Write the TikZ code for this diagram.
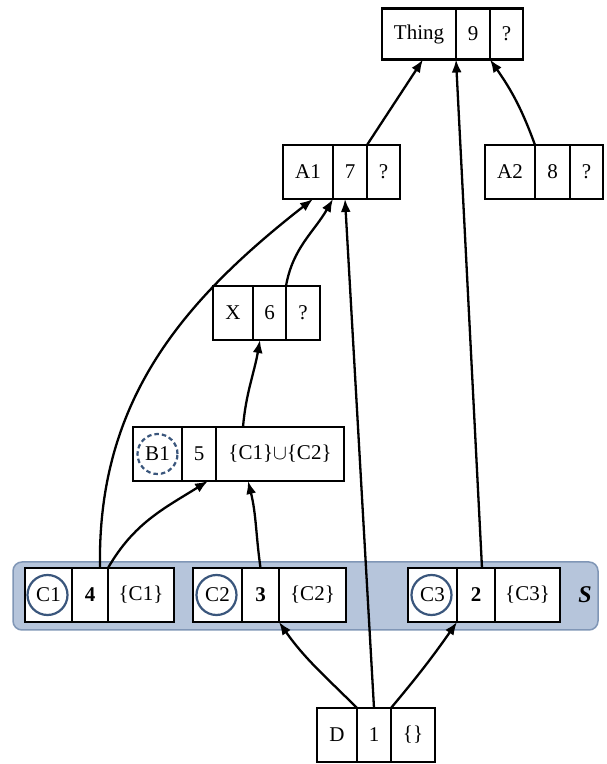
\documentclass[tikz,border=0pt]{standalone}
\usepackage{fontspec}
\setmainfont{Liberation Serif}
\usetikzlibrary{positioning,arrows.meta}
\definecolor{bandfill}{RGB}{182,197,219}
\definecolor{bandline}{RGB}{128,150,182}
\definecolor{ringblue}{RGB}{58,86,124}

\begin{document}
\begin{tikzpicture}[x=1pt,y=1pt,
  cell/.style={draw,fill=white,line width=2.6pt,minimum height=54pt,inner sep=0pt,outer sep=0pt,font=\fontsize{21}{24}\selectfont},
  ring/.style={draw=ringblue,circle,line width=2.2pt,minimum size=40pt,inner sep=0pt},
  dashring/.style={ring,dash pattern=on 4.5pt off 3pt},
  edge/.style={line width=2.3pt,-{Latex[length=13pt,width=10pt]}}]
\useasboundingbox (0,0) rectangle (607,764);
\draw[fill=bandfill,draw=bandline,line width=1.5pt,rounded corners=9pt] (13,134) rectangle (598,202);

% top
\node[cell,minimum height=51pt,minimum width=74pt,anchor=west] (thing) at (382,730) {Thing};
\node[cell,minimum height=51pt,minimum width=34pt,right=0pt of thing] (thing9) {9};
\node[cell,minimum height=51pt,minimum width=33pt,right=0pt of thing9] (thingq) {?};

\node[cell,minimum width=50pt,anchor=west] (a1) at (283,592) {A1};
\node[cell,minimum width=34pt,right=0pt of a1] (a17) {7};
\node[cell,minimum width=33pt,right=0pt of a17] (a1q) {?};

\node[cell,minimum width=50pt,anchor=west] (a2) at (485,592) {A2};
\node[cell,minimum width=35pt,right=0pt of a2] (a28) {8};
\node[cell,minimum width=33pt,right=0pt of a28] (a2q) {?};

\node[cell,minimum width=40pt,anchor=west] (x) at (213,451) {X};
\node[cell,minimum width=33pt,right=0pt of x] (x6) {6};
\node[cell,minimum width=34pt,right=0pt of x6] (xq) {?};

\node[cell,minimum width=49pt,anchor=west] (b1) at (133,310) {B1};
\node[cell,minimum width=34pt,right=0pt of b1] (b15) {5};
\node[cell,minimum width=128pt,right=0pt of b15] (b1s) {\{C1\}$\cup$\{C2\}};
\node[dashring] (b1ring) at (b1) {};

% the set S
\node[cell,minimum width=47pt,anchor=west] (c1) at (25,169) {C1};
\node[cell,minimum width=36pt,right=0pt of c1] (c14) {\textbf{4}};
\node[cell,minimum width=66pt,right=0pt of c14] (c1s) {\{C1\}};
\node[ring] (c1ring) at ([xshift=-1pt]c1.center) {};

\node[cell,minimum width=49pt,anchor=west] (c2) at (193,169) {C2};
\node[cell,minimum width=37pt,right=0pt of c2] (c23) {\textbf{3}};
\node[cell,minimum width=67pt,right=0pt of c23] (c2s) {\{C2\}};
\node[ring] (c2ring) at ([xshift=-1pt]c2.center) {};

\node[cell,minimum width=49pt,anchor=west] (c3) at (408,169) {C3};
\node[cell,minimum width=38pt,right=0pt of c3] (c32) {\textbf{2}};
\node[cell,minimum width=65pt,right=0pt of c32] (c3s) {\{C3\}};
\node[ring] (c3ring) at ([xshift=-1pt]c3.center) {};

\node[font=\fontsize{24}{26}\selectfont\bfseries\itshape] (slabel) at (585,169) {S};

\node[cell,minimum width=40pt,anchor=west] (d) at (317,29) {D};
\node[cell,minimum width=34pt,right=0pt of d] (d1) {1};
\node[cell,minimum width=44pt,right=0pt of d1] (dset) {\{\}};

% arrows
\draw[edge] (a1q.north west) -- ([xshift=4pt]thing.south);
\draw[edge] (a2.north east) to[out=110,in=-55] (thing9.south east);
\draw[edge] ([xshift=6pt]c32.north) -- (thing9.south west);
\draw[edge] (xq.north west) to[out=80,in=-120] (a17.south west);
\draw[edge] (d1.north) -- ([xshift=-5pt]a17.south);
\draw[edge] ([xshift=10pt]c14.north) to[out=91,in=-142] ([xshift=5pt]a1.south);
\draw[edge] (c14.north east) to[out=60,in=-148] ([xshift=9pt]b15.south);
\draw[edge] (c23.north) to[out=98,in=-76] ([xshift=32pt]b1s.south west);
\draw[edge] ([xshift=27pt]b1s.north west) to[out=85,in=-100] ([xshift=7pt]x6.south west);
\draw[edge] (d.north east) to[out=135,in=-55] (c23.south east);
\draw[edge] (dset.north west) to[out=50,in=-125] (c32.south west);
\end{tikzpicture}
\end{document}
